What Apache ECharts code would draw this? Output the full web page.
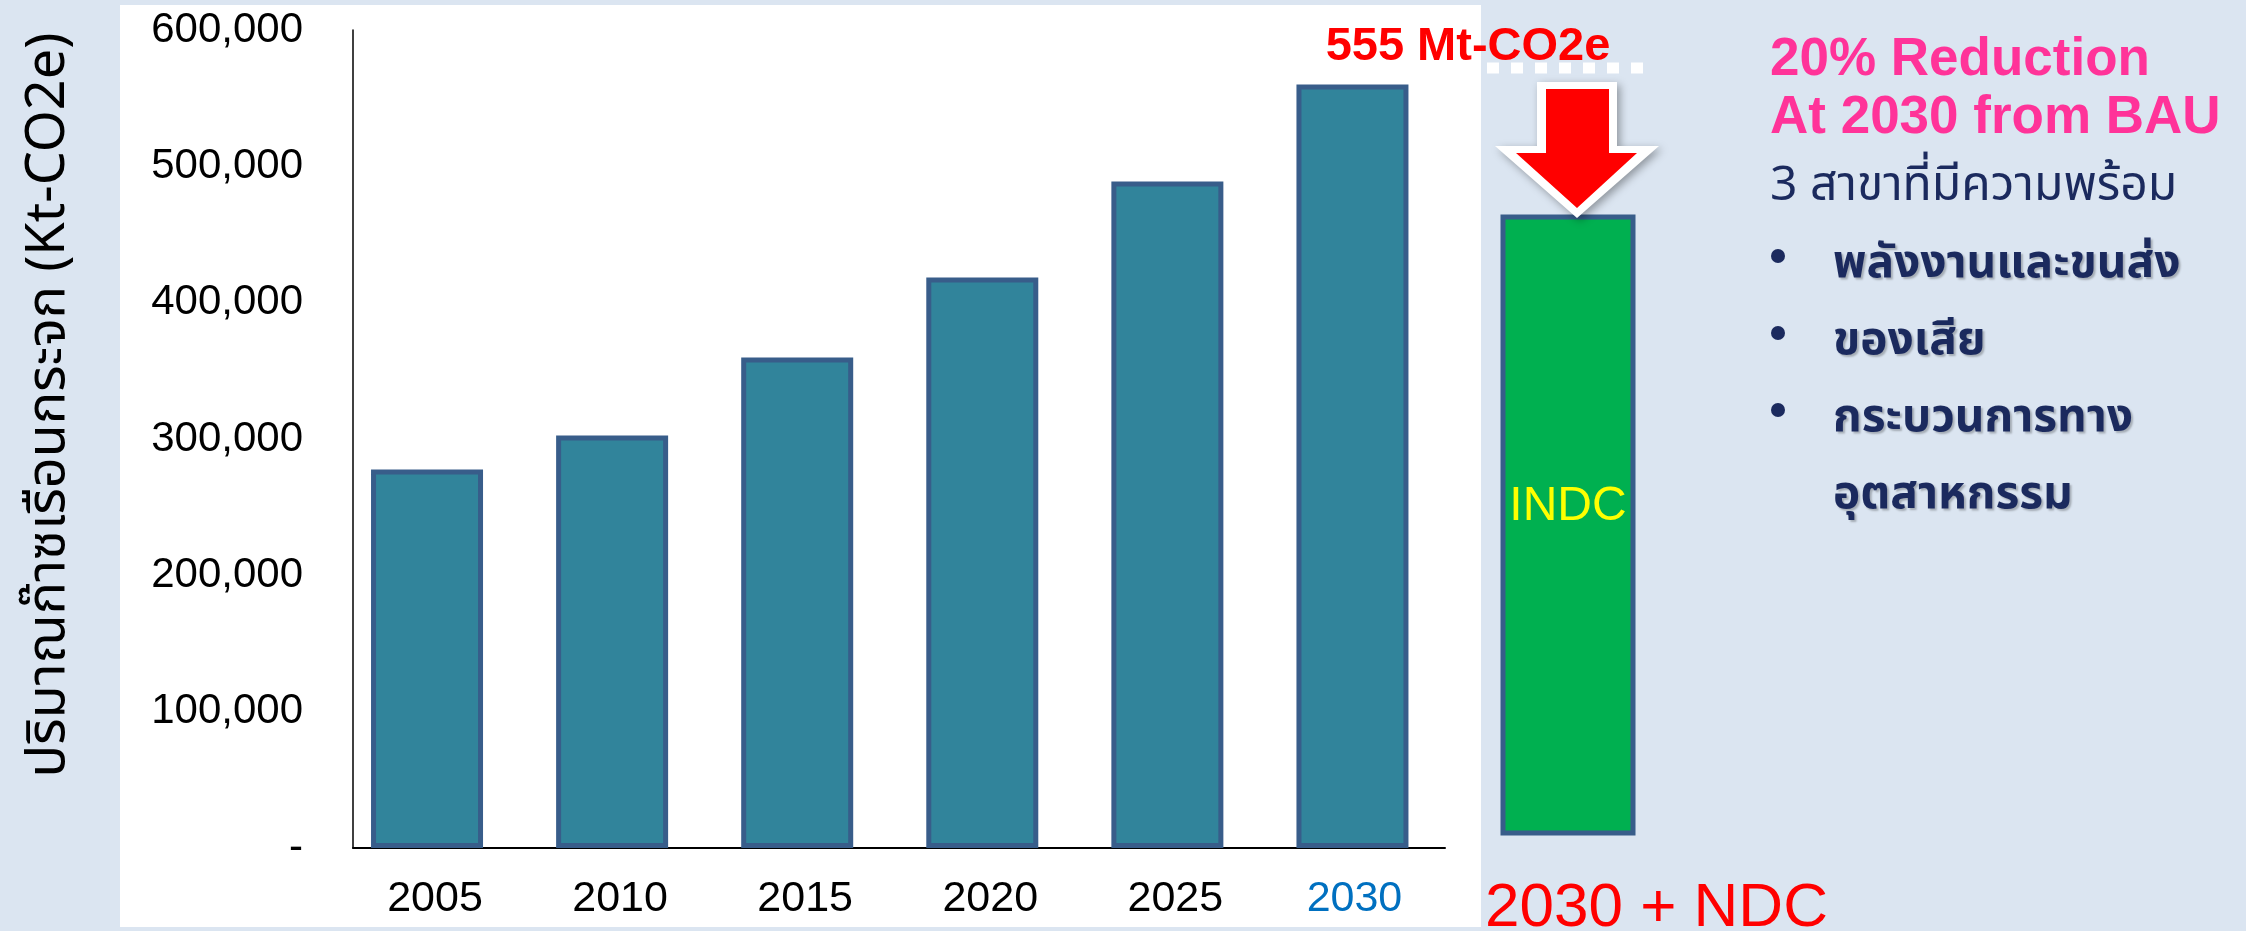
<!DOCTYPE html>
<html>
<head>
<meta charset="utf-8">
<script src="https://cdn.jsdelivr.net/npm/echarts@6/dist/echarts.min.js"></script>
<style>
html,body{margin:0;padding:0;background:#dbe5f1;}
#c{width:2246px;height:931px;}
</style>
</head>
<body>
<div id="c"></div>
<script>
// ---- data ----
const years = [2005, 2010, 2015, 2020, 2025, 2030];
const emissions = [277600, 302600, 359800, 418500, 488900, 560000]; // Kt-CO2e (BAU)
const ndcCategory = ['2030 + NDC'];
const ndcValue = [444000]; // 20% below BAU 2030
const yTickMax = 600000;
const yTickStep = 100000;
const yAxisTitle = 'ปริมาณก๊าซเรือนกระจก (Kt-CO2e)';
const bauLabel = '555 Mt-CO2e';
const headline = ['20% Reduction', 'At 2030 from BAU'];
const subhead = '3 สาขาที่มีความพร้อม';
const sectors = ['พลังงานและขนส่ง', 'ของเสีย', 'กระบวนการทาง'];
const sectorCont = 'อุตสาหกรรม';

const LAT = "'Liberation Sans', Arial, sans-serif";
const THAI = "'Noto Sans Thai', 'Noto Sans Thai UI', 'Loma', 'Garuda', 'Tlwg Typo', 'Noto Sans', 'DejaVu Sans', sans-serif";
const NAVY = '#1b2a5e';

const chart = echarts.init(document.getElementById('c'), null, {renderer: 'canvas'});

const shadow = {textShadowColor:'rgba(0,0,0,0.25)', textShadowOffsetX:2, textShadowOffsetY:2, textShadowBlur:2};
const rightTexts = [];
rightTexts.push({type:'text', x:1770, y:60, style:{text:headline[0], font:'bold 53px ' + LAT, fill:'#ff3399', textVerticalAlign:'middle'}});
rightTexts.push({type:'text', x:1770, y:118, style:{text:headline[1], font:'bold 53px ' + LAT, fill:'#ff3399', textVerticalAlign:'middle'}});
rightTexts.push({type:'text', x:1770, y:190, style:{text:subhead, font:'48px ' + THAI, fill:NAVY, textVerticalAlign:'middle'}});
sectors.forEach((s, i) => {
  const y = 268 + i * 77;
  rightTexts.push({type:'circle', shape:{cx:1778, cy:y - 12, r:7}, style:{fill:NAVY}});
  rightTexts.push({type:'text', x:1833, y:y, style:Object.assign({text:s, font:'bold 46px ' + THAI, fill:NAVY, textVerticalAlign:'middle'}, shadow)});
});
rightTexts.push({type:'text', x:1833, y:268 + 3 * 77, style:Object.assign({text:sectorCont, font:'bold 46px ' + THAI, fill:NAVY, textVerticalAlign:'middle'}, shadow)});

const option = {
  animation: false,
  backgroundColor: '#dbe5f1',
  graphic: [
    {type:'rect', z:-10, shape:{x:120, y:5, width:1361, height:922}, style:{fill:'#ffffff'}},
    {type:'text', x:53, y:405, rotation:Math.PI/2, style:{text:yAxisTitle, font:'54px ' + THAI, fill:'#000', textAlign:'center', textVerticalAlign:'middle'}},
    {type:'text', x:1468, y:47, style:{text:bauLabel, font:'bold 47px ' + LAT, fill:'#ff0000', textAlign:'center', textVerticalAlign:'middle'}},
    {type:'line', shape:{x1:1487, y1:68, x2:1645, y2:68}, style:{stroke:'#ffffff', lineWidth:11, lineDash:[12,12]}},
    {type:'polygon', z:20, shape:{points:[[1537,82],[1617,82],[1617,146],[1659,146],[1577,218],[1495,146],[1537,146]]},
      style:{fill:'#ffffff', shadowColor:'rgba(0,0,0,0.35)', shadowBlur:8, shadowOffsetX:3, shadowOffsetY:3}},
    {type:'polygon', z:21, shape:{points:[[1546,89],[1609,89],[1609,153],[1637,153],[1577,208],[1516,153],[1546,153]]},
      style:{fill:'#ff0000'}},
    {type:'text', x:1485, y:940, style:{text:ndcCategory[0], font:'62px ' + LAT, fill:'#ff0000', textVerticalAlign:'bottom'}}
  ].concat(rightTexts),
  grid: [
    {left:353, top:30, width:1092, height:818},
    {left:1497, top:214.5, width:142, height:621}
  ],
  xAxis: [
    {type:'value', gridIndex:0, min:2003, max:2032.5,
      axisLine:{show:true, lineStyle:{color:'#000', width:2}},
      axisTick:{show:false},
      splitLine:{show:false},
      axisLabel:{customValues: years, margin:30,
        formatter: v => (Number(v) === 2030 ? '{hl|' + v + '}' : '{n|' + v + '}'),
        rich:{
          n:{fontFamily: LAT, fontSize:43, color:'#000', padding:[0,0,0,16]},
          hl:{fontFamily: LAT, fontSize:43, color:'#0070c0', padding:[0,0,0,4]}
        }}},
    {type:'category', gridIndex:1, data: ndcCategory,
      axisLine:{show:false}, axisTick:{show:false}, axisLabel:{show:false}}
  ],
  yAxis: [
    {type:'value', gridIndex:0, min:0, max:yTickMax, interval:yTickStep,
      axisLine:{show:true, lineStyle:{color:'#000', width:1.5}},
      axisTick:{show:false},
      splitLine:{show:false},
      axisLabel:{margin:50, fontFamily: LAT, fontSize:42, color:'#000',
        formatter: v => (v === 0 ? '-' : v.toLocaleString('en-US'))}},
    {type:'value', gridIndex:1, min:0, max:ndcValue[0], show:false}
  ],
  series: [
    {type:'bar', xAxisIndex:0, yAxisIndex:0, barWidth:112,
      data: years.map((y, i) => [y, emissions[i]]),
      itemStyle:{color:'#31849b', borderColor:'#385d8a', borderWidth:5}},
    {type:'bar', xAxisIndex:1, yAxisIndex:1, barWidth:135,
      data: ndcValue,
      itemStyle:{color:'#00b050', borderColor:'#385d8a', borderWidth:5},
      label:{show:true, position:'inside', formatter:'INDC', color:'#ffff00', fontFamily:LAT, fontSize:48, offset:[0,-18]}}
  ]
};
chart.setOption(option);
</script>
</body>
</html>
